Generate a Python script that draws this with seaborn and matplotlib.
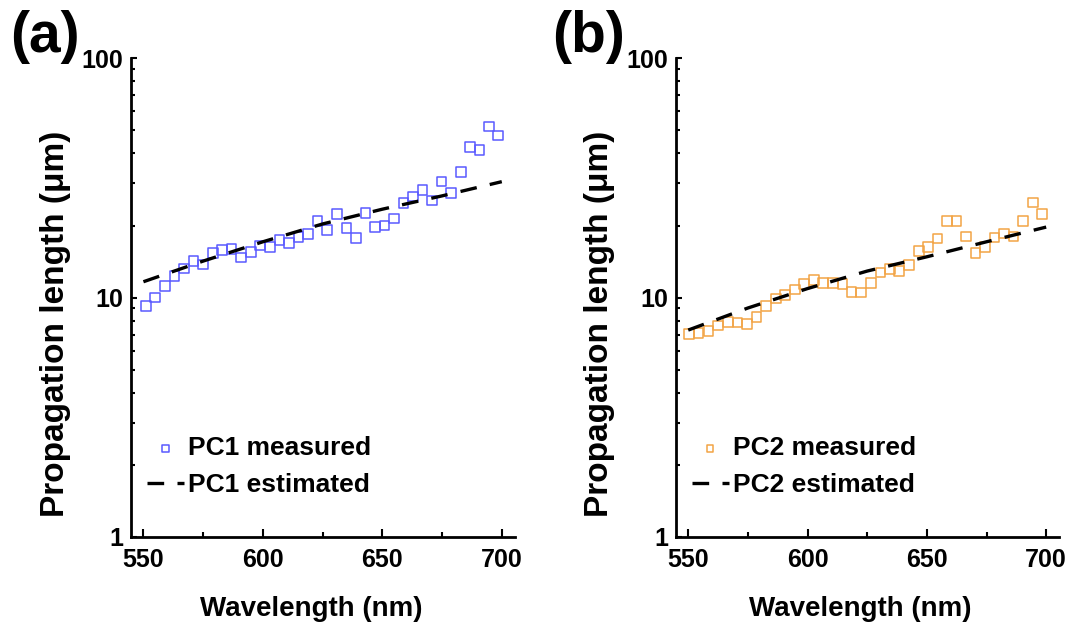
import matplotlib
matplotlib.use("Agg")
import matplotlib.pyplot as plt
import seaborn as sns
import pandas as pd
from matplotlib.ticker import FixedLocator, LogLocator, NullFormatter, FixedFormatter

# ---------------- data ----------------
wl_pc1 = [551.1, 554.9, 559.1, 563.0, 566.9, 570.9, 574.9, 579.0, 583.0, 586.9,
          590.8, 595.0, 598.9, 602.9, 607.0, 611.0, 614.9, 619.0, 622.9, 626.9,
          630.9, 635.0, 638.9, 642.9, 646.9, 650.9, 654.9, 658.8, 662.8, 666.8,
          670.8, 674.7, 678.7, 682.8, 686.6, 690.6, 694.6, 698.5]
len_pc1 = [9.21, 10.0, 11.17, 12.33, 13.2, 14.25, 13.76, 15.39, 15.8, 15.95,
           14.7, 15.5, 16.5, 16.3, 17.4, 16.85, 17.95, 18.4, 20.9, 19.15,
           22.3, 19.5, 17.7, 22.6, 19.7, 20.0, 21.4, 24.8, 26.4, 28.1,
           25.4, 30.5, 27.3, 33.4, 42.7, 41.4, 51.8, 47.6]

wl_pc2 = [550.4, 554.3, 558.5, 562.6, 566.6, 570.6, 574.6, 578.6, 582.6, 586.7,
          590.6, 594.7, 598.6, 602.6, 606.5, 610.6, 614.6, 618.5, 622.5, 626.6,
          630.5, 634.6, 638.4, 642.5, 646.6, 650.5, 654.5, 658.5, 662.5, 666.5,
          670.4, 674.3, 678.4, 682.4, 686.3, 690.4, 694.4, 698.3]
len_pc2 = [7.04, 7.09, 7.26, 7.65, 7.92, 7.85, 7.75, 8.31, 9.22, 9.92,
           10.24, 10.82, 11.36, 11.83, 11.47, 11.53, 11.36, 10.57, 10.51, 11.47,
           12.7, 13.12, 12.94, 13.67, 15.65, 16.31, 17.68, 20.9, 20.9, 17.96,
           15.39, 16.31, 17.85, 18.55, 17.96, 20.9, 25.0, 22.3]

wl_est = [550, 575, 600, 625, 650, 675, 700]
est_pc1 = [11.64, 14.2, 17.1, 20.3, 23.4, 26.6, 30.5]
est_pc2 = [7.31, 9.04, 10.9, 12.9, 14.8, 17.1, 19.7]

x_major = [550, 600, 650, 700]
x_minor = [575, 625, 675]
y_major = [1, 10, 100]
y_labels = ["1", "10", "100"]

panels = [
    dict(tag="(a)", wl=wl_pc1, val=len_pc1, est=est_pc1, color="#5a5aff",
         meas="PC1 measured", estl="PC1 estimated"),
    dict(tag="(b)", wl=wl_pc2, val=len_pc2, est=est_pc2, color="#f2a445",
         meas="PC2 measured", estl="PC2 estimated"),
]

# ---------------- style ----------------
sns.set_style("ticks")
plt.rcParams["font.family"] = ["Liberation Sans", "DejaVu Sans"]
plt.rcParams["font.weight"] = "bold"
plt.rcParams["axes.labelweight"] = "bold"
plt.rcParams["text.color"] = "black"
plt.rcParams["axes.labelcolor"] = "black"
plt.rcParams["xtick.color"] = "black"
plt.rcParams["ytick.color"] = "black"

fig = plt.figure(figsize=(10.75, 6.31), dpi=100)
rects = [[0.1223, 0.1494, 0.3567, 0.7582], [0.6291, 0.1494, 0.3563, 0.7582]]
tag_x = [0.009, 0.514]
xlabel_x = [0.469, 0.48]

for i, p in enumerate(panels):
    ax = fig.add_axes(rects[i])
    df_m = pd.DataFrame({"wl": p["wl"], "L": p["val"]})
    df_e = pd.DataFrame({"wl": wl_est, "L": p["est"]})
    sns.lineplot(data=df_e, x="wl", y="L", ax=ax, color="black", lw=2.4,
                 linestyle=(0, (5, 4)), label=p["estl"], zorder=3)
    sns.scatterplot(data=df_m, x="wl", y="L", ax=ax, marker="s", s=48,
                    facecolors="none", edgecolor=p["color"], linewidth=1.1,
                    label=p["meas"], zorder=2)
    ax.set_yscale("log")
    ax.set_xlim(545, 705.5)
    ax.set_ylim(1, 100)

    ax.xaxis.set_major_locator(FixedLocator(x_major))
    ax.xaxis.set_minor_locator(FixedLocator(x_minor))
    ax.yaxis.set_major_locator(FixedLocator(y_major))
    ax.yaxis.set_major_formatter(FixedFormatter(y_labels))
    ax.yaxis.set_minor_locator(LogLocator(base=10, subs=range(2, 10)))
    ax.yaxis.set_minor_formatter(NullFormatter())

    for s in ["top", "right"]:
        ax.spines[s].set_visible(False)
    for s in ["left", "bottom"]:
        ax.spines[s].set_linewidth(2.0)
        ax.spines[s].set_color("black")

    ax.tick_params(axis="x", which="major", direction="in", length=6, width=1.5,
                   labelsize=18, pad=8, colors="black")
    ax.tick_params(axis="x", which="minor", direction="in", length=3.6, width=1.5)
    ax.tick_params(axis="y", which="major", direction="in", length=4.3, width=1.5,
                   labelsize=18, pad=6, colors="black")
    ax.tick_params(axis="y", which="minor", direction="in", length=2.6, width=1.5)

    ax.set_xlabel("Wavelength (nm)", fontsize=20, fontweight="bold", color="black")
    ax.xaxis.set_label_coords(xlabel_x[i], -0.124)
    ax.set_ylabel("Propagation length (\u03bcm)", fontsize=24, fontweight="bold",
                  color="black")
    ax.yaxis.set_label_coords(-0.159, 0.445)

    h, l = ax.get_legend_handles_labels()
    order = [l.index(p["meas"]), l.index(p["estl"])]
    leg = ax.legend([h[k] for k in order], [l[k] for k in order],
                    loc="upper left", bbox_to_anchor=(0.04, 0.21),
                    frameon=False, fontsize=19, handlelength=1.4,
                    handletextpad=0.15, labelspacing=0.48, borderpad=0,
                    borderaxespad=0, markerscale=0.7)
    for t in leg.get_texts():
        t.set_fontweight("bold")
        t.set_color("black")

    fig.text(tag_x[i], 1 - 10 / 631, p["tag"], fontsize=41, fontweight="bold",
             va="top", ha="left", color="black")

fig.savefig("out.png", dpi=100)
